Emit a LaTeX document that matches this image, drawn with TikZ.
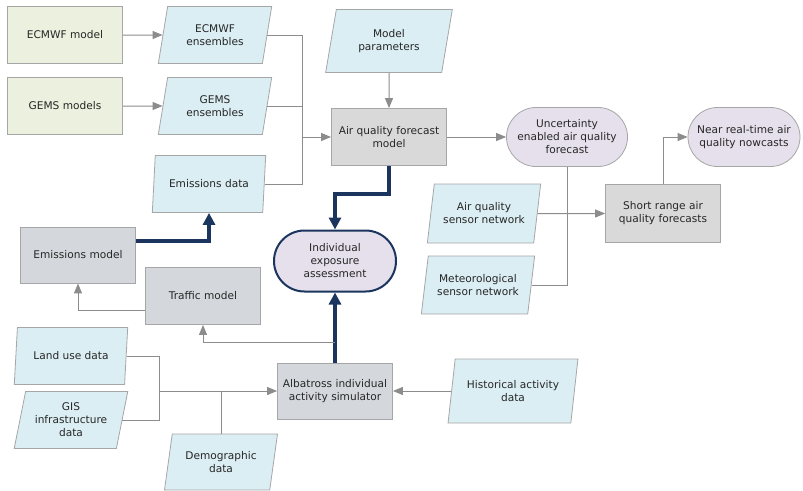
\documentclass[tikz,border=0pt]{standalone}
\usepackage{fontspec}
\setmainfont{DejaVu Sans}
\usetikzlibrary{arrows.meta,positioning,calc,shapes.geometric,shapes.misc}
\definecolor{ModelGreen}{HTML}{EBF1DE}
\definecolor{InputBlue}{HTML}{DBEEF3}
\definecolor{ForecastGray}{HTML}{D9D9D9}
\definecolor{SimGray}{HTML}{D4D8DC}
\definecolor{OutLilac}{HTML}{E5E0EC}
\definecolor{EdgeGray}{HTML}{A6A6A6}
\definecolor{LinkGray}{HTML}{8C8C8C}
\definecolor{ExposureNavy}{HTML}{1B355E}

\begin{document}
\begin{tikzpicture}[x=1pt,y=-1pt,
  every node/.style={font=\fontsize{10.6}{13}\selectfont,text=black!85,align=center},
  box/.style={draw=EdgeGray,line width=0.8,minimum width=115,minimum height=57,inner sep=1},
  srcbox/.style={box,fill=ModelGreen},
  simbox/.style={box,fill=SimGray},
  fcbox/.style={box,fill=ForecastGray},
  inbox/.style={draw=EdgeGray,line width=0.8,fill=InputBlue,trapezium,trapezium left angle=75,
    trapezium right angle=105,trapezium stretches=true,minimum width=114,minimum height=57,inner sep=0},
  outbox/.style={draw=EdgeGray,line width=0.8,fill=OutLilac,rounded rectangle,minimum width=120,minimum height=59,inner sep=0},
  link/.style={draw=LinkGray,line width=1},
  linkto/.style={link,-{Triangle[length=10,width=8]}},
  heavy/.style={draw=ExposureNavy,line width=3.2,-{Triangle[length=12,width=12]}}]
\useasboundingbox (0,0) rectangle (803,490);

\node[srcbox] (ecmwf) at (65,35) {ECMWF model};
\node[srcbox] (gems) at (65,106) {GEMS models};
\node[inbox] (ecmwfens) at (215,35) {ECMWF\\ensembles};
\node[inbox] (gemsens) at (215,106) {GEMS\\ensembles};
\node[inbox] (emisdata) at (209,184) {Emissions data};
\node[inbox,minimum width=127,minimum height=63] (params) at (389,41) {Model\\parameters};
\node[fcbox] (aqmodel) at (389,137) {Air quality forecast\\model};
\node[outbox,minimum width=121] (uncert) at (567,137) {Uncertainty\\enabled air quality\\forecast};
\node[outbox,minimum width=112] (nowcast) at (744,137) {Near real-time air\\quality nowcasts};
\node[fcbox,minimum height=58] (shortrange) at (663,213.5) {Short range air\\quality forecasts};
\node[inbox,minimum height=59] (aqsensor) at (484,213.5) {Air quality\\sensor network};
\node[inbox,minimum height=58] (metsensor) at (478,285) {Meteorological\\sensor network};
\node[outbox,draw=ExposureNavy,line width=2,minimum width=122,minimum height=61] (exposure) at (335,261) {Individual\\exposure\\assessment};
\node[simbox,minimum height=56] (emismodel) at (78,255) {Emissions model};
\node[simbox] (traffic) at (203,296) {Traffic model};
\node[simbox,minimum height=56] (albatross) at (335,391) {Albatross individual\\activity simulator};
\node[inbox,minimum width=130,minimum height=64] (histdata) at (513,391) {Historical activity\\data};
\node[inbox] (landuse) at (71,356) {Land use data};
\node[inbox] (gis) at (71,420) {GIS\\infrastructure\\data};
\node[inbox,minimum height=56] (demog) at (221,462) {Demographic\\data};

\coordinate (aqjoin) at (302,137);
\coordinate (simjoin) at (159,391);

\draw[linkto] (ecmwf) -- (ecmwfens);
\draw[linkto] (gems) -- (gemsens);
\draw[link] (ecmwfens.east) -| (aqjoin);
\draw[link] (gemsens.east) -| (aqjoin);
\draw[link] (emisdata.east) -| (aqjoin);
\draw[linkto] (aqjoin) -- (aqmodel.west);
\draw[linkto] (params) -- (aqmodel);
\draw[linkto] (aqmodel) -- (uncert);
\draw[link] (metsensor.east) -| (uncert.south);
\draw[linkto] (aqsensor.east) -- (shortrange.west);
\draw[linkto] (shortrange.north) |- (nowcast.west);
\draw[heavy] (aqmodel.south) -- ++(0,28) -| (exposure.north);
\draw[heavy] (albatross) -- (exposure);
\draw[heavy] ($(emismodel.east)+(0,-14)$) -| (emisdata.south);
\draw[linkto] ($(traffic.west)+(0,14)$) -| (emismodel.south);
\draw[linkto] ($(albatross.north)+(0,-20)$) -| (traffic.south);
\draw[link] (landuse.east) -| (simjoin);
\draw[link] (gis.east) -| (simjoin);
\draw[link] (demog.north) -- (demog.north |- simjoin);
\draw[linkto] (simjoin) -- (albatross.west);
\draw[linkto] (histdata) -- (albatross);
\end{tikzpicture}
\end{document}
